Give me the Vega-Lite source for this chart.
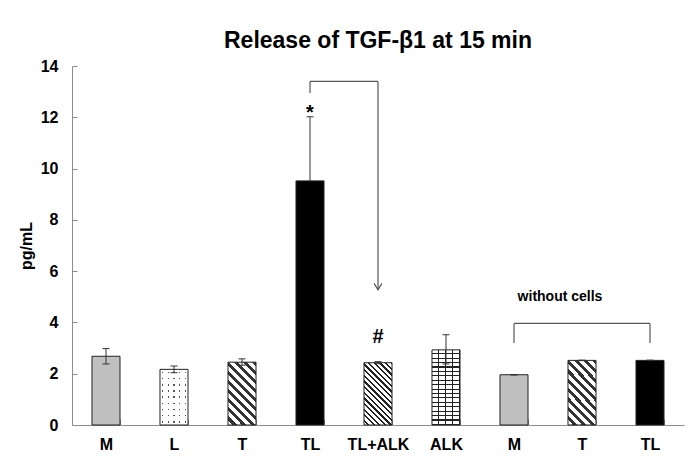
{
  "$schema": "https://vega.github.io/schema/vega-lite/v6.json",
  "width": 612,
  "height": 359,
  "autosize": {"type": "none"},
  "padding": {"left": 72, "top": 66, "right": 16, "bottom": 43},
  "background": "white",
  "config": {
    "font": "Liberation Sans",
    "view": {"stroke": null},
    "axis": {"grid": false},
    "axisX": {"title": null, "labelAngle": 0, "labelFontSize": 16, "labelFontWeight": "bold", "labelColor": "black", "domainColor": "#8c8c8c", "tickColor": "#8c8c8c", "tickSize": -6, "tickBand": "extent", "labelPadding": 17, "labelExpr": "datum.value ? substring(datum.value, 1) : ''"},
    "axisY": {"values": [0, 2, 4, 6, 8, 10, 12, 14], "labelFontSize": 16, "labelFontWeight": "bold", "labelColor": "black", "domainColor": "#8c8c8c", "tickColor": "#8c8c8c", "tickSize": -5, "labelPadding": 19, "titleFontSize": 16, "titleFontWeight": "bold", "titleColor": "black", "titlePadding": 6}
  },
  "title": {"text": "Release of TGF-β1 at 15 min", "fontSize": 23, "fontWeight": "bold", "anchor": "middle", "offset": 5, "color": "black"},
  "data": {"values": [
    {"key": "1M", "value": 2.68, "lo": 2.38, "hi": 2.98},
    {"key": "2L", "value": 2.17, "lo": 2.04, "hi": 2.3},
    {"key": "3T", "value": 2.45, "lo": 2.33, "hi": 2.58},
    {"key": "4TL", "value": 9.52, "lo": 7.0, "hi": 12.02},
    {"key": "5TL+ALK", "value": 2.43, "lo": 2.39, "hi": 2.47},
    {"key": "6ALK", "value": 2.93, "lo": 2.38, "hi": 3.52},
    {"key": "7M", "value": 1.96, "lo": 1.95, "hi": 1.97},
    {"key": "8T", "value": 2.52, "lo": 2.51, "hi": 2.53},
    {"key": "9TL", "value": 2.52, "lo": 2.51, "hi": 2.53}
  ]},
  "encoding": {
    "x": {"field": "key", "type": "nominal", "sort": null, "title": null,
      "scale": {"domain": ["1M", "2L", "3T", "4TL", "5TL+ALK", "6ALK", "7M", "8T", "9TL"], "paddingInner": 0.588, "paddingOuter": 0.294}}
  },
  "layer": [
    {
      "transform": [{"filter": {"field": "key", "oneOf": ["1M", "4TL", "7M", "9TL"]}}],
      "mark": {"type": "bar", "stroke": "#222", "strokeWidth": 1},
      "encoding": {
        "y": {"field": "value", "type": "quantitative", "title": "pg/mL", "scale": {"domain": [0, 14], "nice": false}},
        "fill": {"condition": {"test": "datum.key === '4TL' || datum.key === '9TL'", "value": "black"}, "value": "#c0c0c0"}
      }
    },
    {
      "transform": [{"filter": {"field": "key", "equal": "2L"}}],
      "mark": {"type": "bar", "fill": {"gradient": "linear", "x1": 0, "y1": 0, "x2": 1, "y2": 0, "stops": [
        {"offset": 0, "color": "#ffffff"}, {"offset": 0.075, "color": "#ffffff"}, {"offset": 0.075, "color": "#555555"}, {"offset": 0.125, "color": "#555555"}, {"offset": 0.125, "color": "#ffffff"},
        {"offset": 0.275, "color": "#ffffff"}, {"offset": 0.275, "color": "#555555"}, {"offset": 0.325, "color": "#555555"}, {"offset": 0.325, "color": "#ffffff"},
        {"offset": 0.475, "color": "#ffffff"}, {"offset": 0.475, "color": "#555555"}, {"offset": 0.525, "color": "#555555"}, {"offset": 0.525, "color": "#ffffff"},
        {"offset": 0.675, "color": "#ffffff"}, {"offset": 0.675, "color": "#555555"}, {"offset": 0.725, "color": "#555555"}, {"offset": 0.725, "color": "#ffffff"},
        {"offset": 0.875, "color": "#ffffff"}, {"offset": 0.875, "color": "#555555"}, {"offset": 0.925, "color": "#555555"}, {"offset": 0.925, "color": "#ffffff"},
        {"offset": 1, "color": "#ffffff"}]}},
      "encoding": {"y": {"field": "value", "type": "quantitative", "title": "pg/mL"}}
    },
    {
      "transform": [{"filter": {"field": "key", "equal": "2L"}}],
      "mark": {"type": "bar", "stroke": "#222", "strokeWidth": 1, "fill": {"gradient": "linear", "x1": 0, "y1": 0, "x2": 0, "y2": 1, "stops": [
        {"offset": 0, "color": "#ffffff"}, {"offset": 0.0431, "color": "#ffffff"}, {"offset": 0.0431, "color": "rgba(255,255,255,0)"}, {"offset": 0.0681, "color": "rgba(255,255,255,0)"}, {"offset": 0.0681, "color": "#ffffff"},
        {"offset": 0.1542, "color": "#ffffff"}, {"offset": 0.1542, "color": "rgba(255,255,255,0)"}, {"offset": 0.1792, "color": "rgba(255,255,255,0)"}, {"offset": 0.1792, "color": "#ffffff"},
        {"offset": 0.2653, "color": "#ffffff"}, {"offset": 0.2653, "color": "rgba(255,255,255,0)"}, {"offset": 0.2903, "color": "rgba(255,255,255,0)"}, {"offset": 0.2903, "color": "#ffffff"},
        {"offset": 0.3764, "color": "#ffffff"}, {"offset": 0.3764, "color": "rgba(255,255,255,0)"}, {"offset": 0.4014, "color": "rgba(255,255,255,0)"}, {"offset": 0.4014, "color": "#ffffff"},
        {"offset": 0.4875, "color": "#ffffff"}, {"offset": 0.4875, "color": "rgba(255,255,255,0)"}, {"offset": 0.5125, "color": "rgba(255,255,255,0)"}, {"offset": 0.5125, "color": "#ffffff"},
        {"offset": 0.5986, "color": "#ffffff"}, {"offset": 0.5986, "color": "rgba(255,255,255,0)"}, {"offset": 0.6236, "color": "rgba(255,255,255,0)"}, {"offset": 0.6236, "color": "#ffffff"},
        {"offset": 0.7097, "color": "#ffffff"}, {"offset": 0.7097, "color": "rgba(255,255,255,0)"}, {"offset": 0.7347, "color": "rgba(255,255,255,0)"}, {"offset": 0.7347, "color": "#ffffff"},
        {"offset": 0.8208, "color": "#ffffff"}, {"offset": 0.8208, "color": "rgba(255,255,255,0)"}, {"offset": 0.8458, "color": "rgba(255,255,255,0)"}, {"offset": 0.8458, "color": "#ffffff"},
        {"offset": 0.9319, "color": "#ffffff"}, {"offset": 0.9319, "color": "rgba(255,255,255,0)"}, {"offset": 0.9569, "color": "rgba(255,255,255,0)"}, {"offset": 0.9569, "color": "#ffffff"},
        {"offset": 1, "color": "#ffffff"}]}},
      "encoding": {"y": {"field": "value", "type": "quantitative", "title": "pg/mL"}}
    },
    {
      "transform": [{"filter": {"field": "key", "oneOf": ["3T", "8T"]}}],
      "mark": {"type": "bar", "stroke": "#222", "strokeWidth": 1, "fill": {"gradient": "linear", "x1": 0, "y1": 1, "x2": 0.543, "y2": -0.206, "stops": [
        {"offset": 0, "color": "#ffffff"}, {"offset": 0.055, "color": "#ffffff"}, {"offset": 0.055, "color": "#333333"}, {"offset": 0.1, "color": "#333333"},
        {"offset": 0.1, "color": "#ffffff"}, {"offset": 0.155, "color": "#ffffff"}, {"offset": 0.155, "color": "#333333"}, {"offset": 0.2, "color": "#333333"},
        {"offset": 0.2, "color": "#ffffff"}, {"offset": 0.255, "color": "#ffffff"}, {"offset": 0.255, "color": "#333333"}, {"offset": 0.3, "color": "#333333"},
        {"offset": 0.3, "color": "#ffffff"}, {"offset": 0.355, "color": "#ffffff"}, {"offset": 0.355, "color": "#333333"}, {"offset": 0.4, "color": "#333333"},
        {"offset": 0.4, "color": "#ffffff"}, {"offset": 0.455, "color": "#ffffff"}, {"offset": 0.455, "color": "#333333"}, {"offset": 0.5, "color": "#333333"},
        {"offset": 0.5, "color": "#ffffff"}, {"offset": 0.555, "color": "#ffffff"}, {"offset": 0.555, "color": "#333333"}, {"offset": 0.6, "color": "#333333"},
        {"offset": 0.6, "color": "#ffffff"}, {"offset": 0.655, "color": "#ffffff"}, {"offset": 0.655, "color": "#333333"}, {"offset": 0.7, "color": "#333333"},
        {"offset": 0.7, "color": "#ffffff"}, {"offset": 0.755, "color": "#ffffff"}, {"offset": 0.755, "color": "#333333"}, {"offset": 0.8, "color": "#333333"},
        {"offset": 0.8, "color": "#ffffff"}, {"offset": 0.855, "color": "#ffffff"}, {"offset": 0.855, "color": "#333333"}, {"offset": 0.9, "color": "#333333"},
        {"offset": 0.9, "color": "#ffffff"}, {"offset": 0.955, "color": "#ffffff"}, {"offset": 0.955, "color": "#333333"}, {"offset": 1, "color": "#333333"}]}},
      "encoding": {"y": {"field": "value", "type": "quantitative", "title": "pg/mL"}}
    },
    {
      "transform": [{"filter": {"field": "key", "equal": "5TL+ALK"}}],
      "mark": {"type": "bar", "stroke": "#222", "strokeWidth": 1, "fill": {"gradient": "linear", "x1": 0, "y1": 1, "x2": 0.543, "y2": -0.206, "stops": [
        {"offset": 0, "color": "#ffffff"}, {"offset": 0.0375, "color": "#ffffff"}, {"offset": 0.0375, "color": "#222222"}, {"offset": 0.0625, "color": "#222222"},
        {"offset": 0.0625, "color": "#ffffff"}, {"offset": 0.1, "color": "#ffffff"}, {"offset": 0.1, "color": "#222222"}, {"offset": 0.125, "color": "#222222"},
        {"offset": 0.125, "color": "#ffffff"}, {"offset": 0.1625, "color": "#ffffff"}, {"offset": 0.1625, "color": "#222222"}, {"offset": 0.1875, "color": "#222222"},
        {"offset": 0.1875, "color": "#ffffff"}, {"offset": 0.225, "color": "#ffffff"}, {"offset": 0.225, "color": "#222222"}, {"offset": 0.25, "color": "#222222"},
        {"offset": 0.25, "color": "#ffffff"}, {"offset": 0.2875, "color": "#ffffff"}, {"offset": 0.2875, "color": "#222222"}, {"offset": 0.3125, "color": "#222222"},
        {"offset": 0.3125, "color": "#ffffff"}, {"offset": 0.35, "color": "#ffffff"}, {"offset": 0.35, "color": "#222222"}, {"offset": 0.375, "color": "#222222"},
        {"offset": 0.375, "color": "#ffffff"}, {"offset": 0.4125, "color": "#ffffff"}, {"offset": 0.4125, "color": "#222222"}, {"offset": 0.4375, "color": "#222222"},
        {"offset": 0.4375, "color": "#ffffff"}, {"offset": 0.475, "color": "#ffffff"}, {"offset": 0.475, "color": "#222222"}, {"offset": 0.5, "color": "#222222"},
        {"offset": 0.5, "color": "#ffffff"}, {"offset": 0.5375, "color": "#ffffff"}, {"offset": 0.5375, "color": "#222222"}, {"offset": 0.5625, "color": "#222222"},
        {"offset": 0.5625, "color": "#ffffff"}, {"offset": 0.6, "color": "#ffffff"}, {"offset": 0.6, "color": "#222222"}, {"offset": 0.625, "color": "#222222"},
        {"offset": 0.625, "color": "#ffffff"}, {"offset": 0.6625, "color": "#ffffff"}, {"offset": 0.6625, "color": "#222222"}, {"offset": 0.6875, "color": "#222222"},
        {"offset": 0.6875, "color": "#ffffff"}, {"offset": 0.725, "color": "#ffffff"}, {"offset": 0.725, "color": "#222222"}, {"offset": 0.75, "color": "#222222"},
        {"offset": 0.75, "color": "#ffffff"}, {"offset": 0.7875, "color": "#ffffff"}, {"offset": 0.7875, "color": "#222222"}, {"offset": 0.8125, "color": "#222222"},
        {"offset": 0.8125, "color": "#ffffff"}, {"offset": 0.85, "color": "#ffffff"}, {"offset": 0.85, "color": "#222222"}, {"offset": 0.875, "color": "#222222"},
        {"offset": 0.875, "color": "#ffffff"}, {"offset": 0.9125, "color": "#ffffff"}, {"offset": 0.9125, "color": "#222222"}, {"offset": 0.9375, "color": "#222222"},
        {"offset": 0.9375, "color": "#ffffff"}, {"offset": 0.975, "color": "#ffffff"}, {"offset": 0.975, "color": "#222222"}, {"offset": 1, "color": "#222222"}]}},
      "encoding": {"y": {"field": "value", "type": "quantitative", "title": "pg/mL"}}
    },
    {
      "transform": [{"filter": {"field": "key", "equal": "6ALK"}}],
      "mark": {"type": "bar", "fill": {"gradient": "linear", "x1": 0, "y1": 0, "x2": 1, "y2": 0, "stops": [
        {"offset": 0, "color": "#ffffff"}, {"offset": 0.2125, "color": "#ffffff"}, {"offset": 0.2125, "color": "#222222"}, {"offset": 0.25, "color": "#222222"},
        {"offset": 0.25, "color": "#ffffff"}, {"offset": 0.4625, "color": "#ffffff"}, {"offset": 0.4625, "color": "#222222"}, {"offset": 0.5, "color": "#222222"},
        {"offset": 0.5, "color": "#ffffff"}, {"offset": 0.7125, "color": "#ffffff"}, {"offset": 0.7125, "color": "#222222"}, {"offset": 0.75, "color": "#222222"},
        {"offset": 0.75, "color": "#ffffff"}, {"offset": 0.9625, "color": "#ffffff"}, {"offset": 0.9625, "color": "#222222"}, {"offset": 1, "color": "#222222"}]}},
      "encoding": {"y": {"field": "value", "type": "quantitative", "title": "pg/mL"}}
    },
    {
      "transform": [{"filter": {"field": "key", "equal": "6ALK"}}],
      "mark": {"type": "bar", "stroke": "#222", "strokeWidth": 1, "fill": {"gradient": "linear", "x1": 0, "y1": 0, "x2": 0, "y2": 1, "stops": [
        {"offset": 0, "color": "rgba(0,0,0,0)"}, {"offset": 0.0441, "color": "rgba(0,0,0,0)"}, {"offset": 0.0441, "color": "#222222"}, {"offset": 0.0588, "color": "#222222"},
        {"offset": 0.0588, "color": "rgba(0,0,0,0)"}, {"offset": 0.1029, "color": "rgba(0,0,0,0)"}, {"offset": 0.1029, "color": "#222222"}, {"offset": 0.1176, "color": "#222222"},
        {"offset": 0.1176, "color": "rgba(0,0,0,0)"}, {"offset": 0.1618, "color": "rgba(0,0,0,0)"}, {"offset": 0.1618, "color": "#222222"}, {"offset": 0.1765, "color": "#222222"},
        {"offset": 0.1765, "color": "rgba(0,0,0,0)"}, {"offset": 0.2206, "color": "rgba(0,0,0,0)"}, {"offset": 0.2206, "color": "#222222"}, {"offset": 0.2353, "color": "#222222"},
        {"offset": 0.2353, "color": "rgba(0,0,0,0)"}, {"offset": 0.2794, "color": "rgba(0,0,0,0)"}, {"offset": 0.2794, "color": "#222222"}, {"offset": 0.2941, "color": "#222222"},
        {"offset": 0.2941, "color": "rgba(0,0,0,0)"}, {"offset": 0.3382, "color": "rgba(0,0,0,0)"}, {"offset": 0.3382, "color": "#222222"}, {"offset": 0.3529, "color": "#222222"},
        {"offset": 0.3529, "color": "rgba(0,0,0,0)"}, {"offset": 0.3971, "color": "rgba(0,0,0,0)"}, {"offset": 0.3971, "color": "#222222"}, {"offset": 0.4118, "color": "#222222"},
        {"offset": 0.4118, "color": "rgba(0,0,0,0)"}, {"offset": 0.4559, "color": "rgba(0,0,0,0)"}, {"offset": 0.4559, "color": "#222222"}, {"offset": 0.4706, "color": "#222222"},
        {"offset": 0.4706, "color": "rgba(0,0,0,0)"}, {"offset": 0.5147, "color": "rgba(0,0,0,0)"}, {"offset": 0.5147, "color": "#222222"}, {"offset": 0.5294, "color": "#222222"},
        {"offset": 0.5294, "color": "rgba(0,0,0,0)"}, {"offset": 0.5735, "color": "rgba(0,0,0,0)"}, {"offset": 0.5735, "color": "#222222"}, {"offset": 0.5882, "color": "#222222"},
        {"offset": 0.5882, "color": "rgba(0,0,0,0)"}, {"offset": 0.6324, "color": "rgba(0,0,0,0)"}, {"offset": 0.6324, "color": "#222222"}, {"offset": 0.6471, "color": "#222222"},
        {"offset": 0.6471, "color": "rgba(0,0,0,0)"}, {"offset": 0.6912, "color": "rgba(0,0,0,0)"}, {"offset": 0.6912, "color": "#222222"}, {"offset": 0.7059, "color": "#222222"},
        {"offset": 0.7059, "color": "rgba(0,0,0,0)"}, {"offset": 0.75, "color": "rgba(0,0,0,0)"}, {"offset": 0.75, "color": "#222222"}, {"offset": 0.7647, "color": "#222222"},
        {"offset": 0.7647, "color": "rgba(0,0,0,0)"}, {"offset": 0.8088, "color": "rgba(0,0,0,0)"}, {"offset": 0.8088, "color": "#222222"}, {"offset": 0.8235, "color": "#222222"},
        {"offset": 0.8235, "color": "rgba(0,0,0,0)"}, {"offset": 0.8676, "color": "rgba(0,0,0,0)"}, {"offset": 0.8676, "color": "#222222"}, {"offset": 0.8824, "color": "#222222"},
        {"offset": 0.8824, "color": "rgba(0,0,0,0)"}, {"offset": 0.9265, "color": "rgba(0,0,0,0)"}, {"offset": 0.9265, "color": "#222222"}, {"offset": 0.9412, "color": "#222222"},
        {"offset": 0.9412, "color": "rgba(0,0,0,0)"}, {"offset": 0.9853, "color": "rgba(0,0,0,0)"}, {"offset": 0.9853, "color": "#222222"}, {"offset": 1, "color": "#222222"}]}},
      "encoding": {"y": {"field": "value", "type": "quantitative", "title": "pg/mL"}}
    },
    {
      "mark": {"type": "rule", "color": "#333333", "strokeWidth": 1},
      "encoding": {
        "y": {"field": "value", "type": "quantitative", "title": "pg/mL"},
        "y2": {"field": "hi"}
      }
    },
    {
      "transform": [{"filter": "datum.key !== '4TL'"}],
      "mark": {"type": "rule", "color": "#333333", "strokeWidth": 1},
      "encoding": {
        "y": {"field": "lo", "type": "quantitative", "title": "pg/mL"},
        "y2": {"field": "value"}
      }
    },
    {
      "mark": {"type": "tick", "color": "#333333", "thickness": 1, "size": 7, "opacity": 1},
      "encoding": {"y": {"field": "hi", "type": "quantitative", "title": "pg/mL"}}
    },
    {
      "transform": [{"filter": "datum.key !== '4TL'"}],
      "mark": {"type": "tick", "color": "#333333", "thickness": 1, "size": 7, "opacity": 1},
      "encoding": {"y": {"field": "lo", "type": "quantitative", "title": "pg/mL"}}
    },
    {
      "data": {"values": [
        {"key": "4TL", "y": 12.95, "y2": 13.4},
        {"key": "5TL+ALK", "y": 5.27, "y2": 13.4},
        {"key": "7M", "y": 3.2, "y2": 3.96},
        {"key": "9TL", "y": 3.2, "y2": 3.96}
      ]},
      "mark": {"type": "rule", "color": "#555555", "strokeWidth": 1.2},
      "encoding": {
        "y": {"field": "y", "type": "quantitative", "title": "pg/mL"},
        "y2": {"field": "y2"}
      }
    },
    {
      "data": {"values": [
        {"from": "4TL", "to": "5TL+ALK", "y": 13.4},
        {"from": "7M", "to": "9TL", "y": 3.96}
      ]},
      "mark": {"type": "rule", "color": "#555555", "strokeWidth": 1.2},
      "encoding": {
        "x": {"field": "from", "type": "nominal", "sort": null},
        "x2": {"field": "to"},
        "y": {"field": "y", "type": "quantitative", "title": "pg/mL"}
      }
    },
    {
      "data": {"values": [{"key": "5TL+ALK", "y": 5.27}]},
      "mark": {"type": "point", "shape": "M-0.6,-1L0,0L0.6,-1", "filled": false, "stroke": "#555555", "strokeWidth": 1.2, "size": 170, "opacity": 1},
      "encoding": {"y": {"field": "y", "type": "quantitative", "title": "pg/mL"}}
    },
    {
      "data": {"values": [
        {"key": "4TL", "y": 11.95, "label": "*"},
        {"key": "5TL+ALK", "y": 3.21, "label": "#"}
      ]},
      "mark": {"type": "text", "fontSize": 20, "fontWeight": "bold", "baseline": "alphabetic", "align": "center", "color": "black"},
      "encoding": {
        "y": {"field": "y", "type": "quantitative", "title": "pg/mL"},
        "text": {"field": "label"}
      }
    },
    {
      "data": {"values": [{"key": "8T", "y": 4.84, "label": "without cells"}]},
      "mark": {"type": "text", "fontSize": 14, "fontWeight": "bold", "baseline": "alphabetic", "align": "center", "dx": -22, "color": "black"},
      "encoding": {
        "y": {"field": "y", "type": "quantitative", "title": "pg/mL"},
        "text": {"field": "label"}
      }
    }
  ]
}
